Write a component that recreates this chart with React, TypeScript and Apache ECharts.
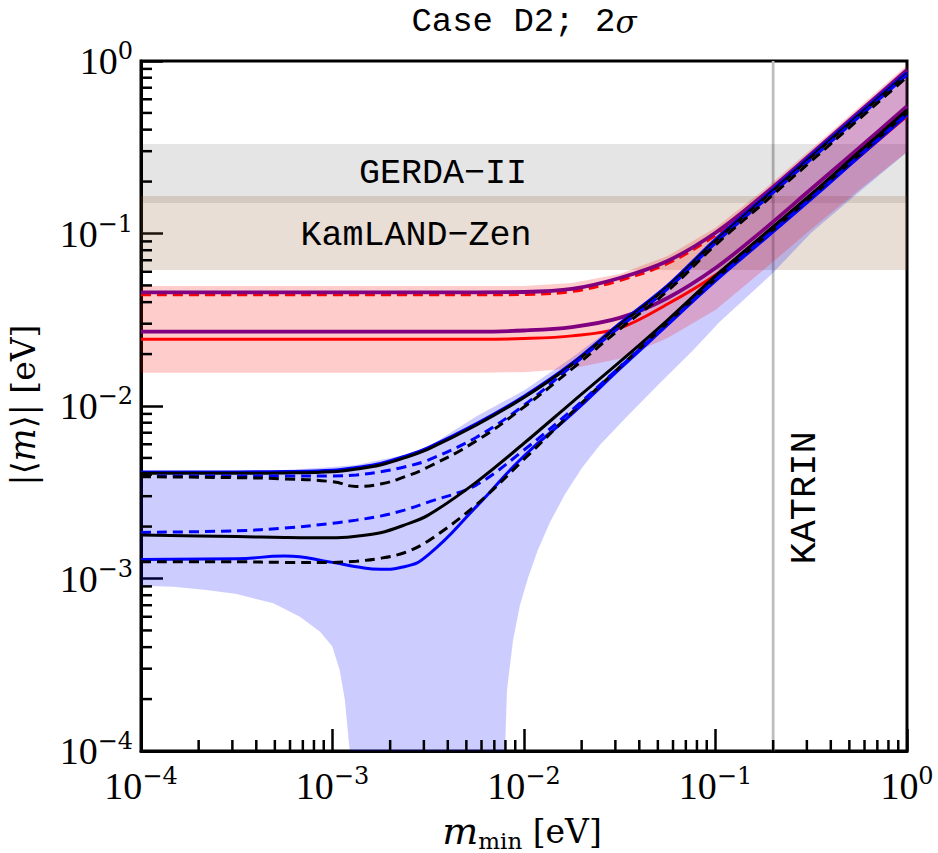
import React, { useEffect, useRef } from "react";
import * as echarts from "echarts";

// lightest neutrino mass grid (eV)
const mMin = [1e-4, 3.16e-4, 5.62e-4, 1e-3, 1.33e-3, 1.78e-3, 2.37e-3, 3.16e-3, 5.62e-3, 1e-2, 1.78e-2, 3.16e-2, 5.62e-2, 0.1, 0.178, 0.316, 0.562, 1];

// normal ordering curves |<m>| (eV)
const noBlackSolidUpper = [4.07e-3, 4.07e-3, 4.09e-3, 4.16e-3, 4.31e-3, 4.55e-3, 5.0e-3, 5.63e-3, 7.73e-3, 1.12e-2, 1.74e-2, 2.95e-2, 4.9e-2, 9.06e-2, 0.158, 0.278, 0.486, 0.841];
const noBlueSolidUpper = [4.15e-3, 4.15e-3, 4.17e-3, 4.24e-3, 4.4e-3, 4.64e-3, 5.1e-3, 5.74e-3, 7.88e-3, 1.14e-2, 1.77e-2, 3.01e-2, 5.0e-2, 9.24e-2, 0.161, 0.284, 0.496, 0.858];
const noBlueDashedUpper = [3.93e-3, 3.93e-3, 3.93e-3, 3.93e-3, 3.98e-3, 4.16e-3, 4.43e-3, 4.86e-3, 6.57e-3, 1.01e-2, 1.71e-2, 2.87e-2, 4.77e-2, 8.81e-2, 0.154, 0.27, 0.474, 0.83];
const noBlackDashedUpper = [3.89e-3, 3.84e-3, 3.78e-3, 3.64e-3, 3.42e-3, 3.53e-3, 3.88e-3, 4.43e-3, 6.27e-3, 9.87e-3, 1.64e-2, 2.79e-2, 4.65e-2, 8.58e-2, 0.15, 0.263, 0.461, 0.807];
const noBlueDashedLower = [1.85e-3, 1.89e-3, 1.96e-3, 2.09e-3, 2.18e-3, 2.3e-3, 2.49e-3, 2.77e-3, 3.48e-3, 5.56e-3, 9.48e-3, 1.68e-2, 2.99e-2, 5.45e-2, 9.41e-2, 0.165, 0.289, 0.506];
const noBlackSolidLower = [1.79e-3, 1.75e-3, 1.73e-3, 1.72e-3, 1.76e-3, 1.84e-3, 2.04e-3, 2.33e-3, 3.61e-3, 6.08e-3, 1.05e-2, 1.8e-2, 3.15e-2, 5.68e-2, 9.8e-2, 0.169, 0.297, 0.52];
const noBlackDashedLower = [1.25e-3, 1.25e-3, 1.24e-3, 1.24e-3, 1.26e-3, 1.31e-3, 1.41e-3, 1.65e-3, 2.67e-3, 4.91e-3, 9.18e-3, 1.68e-2, 3.03e-2, 5.45e-2, 9.41e-2, 0.163, 0.285, 0.5];
const noBlueSolidLower = [1.29e-3, 1.3e-3, 1.35e-3, 1.24e-3, 1.17e-3, 1.13e-3, 1.17e-3, 1.37e-3, 2.6e-3, 5.13e-3, 8.99e-3, 1.64e-2, 2.95e-2, 5.31e-2, 9.16e-2, 0.158, 0.278, 0.486];

// inverted ordering curves |<m>| (eV)
const ioPurpleUpper = [4.56e-2, 4.56e-2, 4.56e-2, 4.56e-2, 4.56e-2, 4.56e-2, 4.56e-2, 4.56e-2, 4.56e-2, 4.58e-2, 4.77e-2, 5.52e-2, 6.93e-2, 0.101, 0.167, 0.289, 0.506, 0.887];
const ioRedDashedUpper = [4.41e-2, 4.41e-2, 4.41e-2, 4.41e-2, 4.41e-2, 4.41e-2, 4.41e-2, 4.41e-2, 4.41e-2, 4.43e-2, 4.61e-2, 5.34e-2, 6.7e-2, 9.77e-2, 0.161, 0.279, 0.489, 0.858];
const ioPurpleLower = [2.7e-2, 2.7e-2, 2.7e-2, 2.7e-2, 2.7e-2, 2.7e-2, 2.7e-2, 2.7e-2, 2.7e-2, 2.74e-2, 2.87e-2, 3.24e-2, 4.23e-2, 6.31e-2, 0.105, 0.181, 0.313, 0.548];
const ioRedSolidLower = [2.44e-2, 2.44e-2, 2.44e-2, 2.44e-2, 2.44e-2, 2.44e-2, 2.44e-2, 2.44e-2, 2.44e-2, 2.46e-2, 2.55e-2, 2.83e-2, 3.9e-2, 5.75e-2, 9.41e-2, 0.161, 0.278, 0.48];

// allowed regions (2 sigma)
const ioBandUpper = [4.96e-2, 4.96e-2, 4.96e-2, 4.96e-2, 4.96e-2, 4.96e-2, 4.96e-2, 4.96e-2, 4.96e-2, 4.96e-2, 5.16e-2, 5.82e-2, 7.41e-2, 0.108, 0.179, 0.309, 0.541, 0.948];
const ioBandLower = [1.56e-2, 1.56e-2, 1.56e-2, 1.56e-2, 1.56e-2, 1.56e-2, 1.56e-2, 1.56e-2, 1.56e-2, 1.57e-2, 1.65e-2, 1.88e-2, 2.48e-2, 3.6e-2, 6.14e-2, 0.106, 0.179, 0.297];
const noBandUpper = [4.2e-3, 4.23e-3, 4.26e-3, 4.43e-3, 4.55e-3, 4.86e-3, 5.2e-3, 5.78e-3, 8.69e-3, 1.23e-2, 1.91e-2, 3.07e-2, 5.02e-2, 9.68e-2, 0.172, 0.301, 0.527, 0.923];
// lower edge of NO region: left lobe (down to cancellation), right lobe (up from cancellation)
const noBandLowerLeft: [number, number][] = [[1e-4, 9.08e-4], [1.48e-4, 8.97e-4], [2.2e-4, 8.57e-4], [3.16e-4, 8.13e-4], [4.91e-4, 7.18e-4], [6.76e-4, 6.01e-4], [8.61e-4, 4.92e-4], [9.98e-4, 4.03e-4], [1.09e-3, 2.95e-4], [1.16e-3, 1.98e-4], [1.23e-3, 1e-4]];
const noBandLowerRight: [number, number][] = [[7.96e-3, 1e-4], [8.15e-3, 2.26e-4], [8.77e-3, 4.4e-4], [9.53e-3, 7.02e-4], [1.05e-2, 1.01e-3], [1.18e-2, 1.46e-3], [1.37e-2, 2.13e-3], [1.64e-2, 3.09e-3], [2.01e-2, 4.38e-3], [2.49e-2, 5.94e-3], [3.44e-2, 8.67e-3], [5.13e-2, 1.36e-2], [7.66e-2, 2.11e-2], [0.105, 3.07e-2], [0.197, 5.82e-2], [0.316, 0.101], [0.562, 0.174], [1, 0.296]];

// experimental limits
const gerdaRange = [0.15, 0.33];
const kamlandRange = [0.0614, 0.165];
const katrinLimit = 0.2;

// axis
const axisMin = 1e-4;
const axisMax = 1;
const decades = [1e-4, 1e-3, 1e-2, 1e-1];
const minorMultipliers = [2, 3, 4, 5, 6, 7, 8, 9];

export default function App() {
  const ref = useRef<HTMLDivElement>(null);
  useEffect(() => {
    if (!ref.current) return;
    const chart = echarts.init(ref.current, null, { renderer: "svg" });

    const minorVals: number[] = [];
    decades.forEach((d) => minorMultipliers.forEach((k) => minorVals.push(k * d)));

    const pairs = (ys: number[]) => mMin.map((x, i) => [x, ys[i]]);

    const poly = (pts: number[][], fill: string, z: number) => ({
      type: "custom",
      coordinateSystem: "cartesian2d",
      silent: true,
      z,
      data: [pts[0]],
      renderItem: (_p: any, api: any) => ({
        type: "polygon",
        shape: { points: pts.map((p) => api.coord(p)) },
        style: { fill },
      }),
    });

    const line = (ys: number[], color: string, dashed: boolean, z: number, width = 3, smooth = 0.35) => ({
      type: "line",
      data: pairs(ys),
      smooth,
      symbol: "none",
      silent: true,
      z,
      lineStyle: { color, width, type: dashed ? [10, 6] : "solid" },
    });

    const noPoly = [
      ...pairs(noBandUpper),
      ...noBandLowerRight.slice().reverse(),
      ...noBandLowerLeft.slice().reverse(),
    ];
    const ioPoly = [...pairs(ioBandUpper), ...pairs(ioBandLower).reverse()];
    const rectPoly = (r: number[]) => [
      [axisMin, r[0]],
      [axisMax, r[0]],
      [axisMax, r[1]],
      [axisMin, r[1]],
    ];

    const labelFmt = (v: number) => {
      const e = Math.round(Math.log10(v));
      return `{b|10}{s|${e < 0 ? "\u2212" + -e : e}}`;
    };
    const labelRich = {
      b: { fontFamily: "Liberation Serif", fontSize: 38, lineHeight: 44, color: "#000" },
      s: { fontFamily: "DejaVu Serif", fontSize: 24, lineHeight: 20, verticalAlign: "top", color: "#000" },
    };

    const tickSeries = (horizontal: boolean) => ({
      type: "custom",
      coordinateSystem: "cartesian2d",
      silent: true,
      z: 20,
      data: minorVals.map((v) => (horizontal ? [v, axisMin] : [axisMin, v])),
      renderItem: (_p: any, api: any) => {
        const c = api.coord([api.value(0), api.value(1)]);
        return {
          type: "line",
          shape: horizontal
            ? { x1: c[0], y1: c[1], x2: c[0], y2: c[1] - 11 }
            : { x1: c[0], y1: c[1], x2: c[0] + 11, y2: c[1] },
          style: { stroke: "#000", lineWidth: 2.5 },
        };
      },
    });

    const monoFont = "Liberation Mono";

    chart.setOption({
      animation: false,
      backgroundColor: "#fff",
      grid: { left: 141, top: 61, right: 31, bottom: 102, show: true, borderColor: "#000", borderWidth: 3, backgroundColor: "transparent" },
      xAxis: {
        type: "log",
        logBase: 10,
        min: axisMin,
        max: axisMax,
        splitLine: { show: false },
        axisLine: { show: true, lineStyle: { color: "#000", width: 3 } },
        axisTick: { show: true, inside: true, length: 22, lineStyle: { color: "#000", width: 2.5 } },
        axisLabel: { margin: 13, formatter: labelFmt, rich: labelRich, showMinLabel: true, showMaxLabel: true },
      },
      yAxis: {
        type: "log",
        logBase: 10,
        min: axisMin,
        max: axisMax,
        splitLine: { show: false },
        axisLine: { show: true, lineStyle: { color: "#000", width: 3 } },
        axisTick: { show: true, inside: true, length: 22, lineStyle: { color: "#000", width: 2.5 } },
        axisLabel: { margin: 8, formatter: labelFmt, rich: labelRich, showMinLabel: true, showMaxLabel: true },
      },
      graphic: [
        {
          type: "text", x: 524, y: 22, silent: true,
          style: {
            text: "{a|Case D2; 2}{g|\u03c3}",
            textAlign: "center", textVerticalAlign: "middle", align: "center", verticalAlign: "middle",
            rich: {
              a: { fontFamily: monoFont, fontSize: 34, fill: "#000", color: "#000" },
              g: { fontFamily: "DejaVu Serif", fontStyle: "italic", fontSize: 31, fill: "#000", color: "#000" },
            },
          },
        },
        {
          type: "text", x: 443, y: 174, silent: true, z: 30,
          style: { text: "GERDA\u2212II", font: `35px "${monoFont}"`, fill: "#000", textAlign: "center", textVerticalAlign: "middle", align: "center", verticalAlign: "middle" },
        },
        {
          type: "text", x: 416, y: 236, silent: true, z: 30,
          style: { text: "KamLAND\u2212Zen", font: `35px "${monoFont}"`, fill: "#000", textAlign: "center", textVerticalAlign: "middle", align: "center", verticalAlign: "middle" },
        },
        {
          type: "text", x: 805, y: 498, rotation: Math.PI / 2, silent: true, z: 30,
          style: { text: "KATRIN", font: `37px "${monoFont}"`, fill: "#000", textAlign: "center", textVerticalAlign: "middle", align: "center", verticalAlign: "middle" },
        },
        {
          type: "text", x: 23, y: 405, rotation: Math.PI / 2, silent: true,
          style: {
            text: "{t|\u007c\u27e8}{i|m}{t|\u27e9\u007c [eV]}",
            textAlign: "center", textVerticalAlign: "middle", align: "center", verticalAlign: "middle",
            rich: {
              t: { fontFamily: "DejaVu Serif", fontSize: 33, fill: "#000", color: "#000" },
              i: { fontFamily: "DejaVu Serif", fontStyle: "italic", fontSize: 35, fill: "#000", color: "#000" },
            },
          },
        },
        {
          type: "text", x: 522, y: 831, silent: true,
          style: {
            text: "{i|m}{s|min}{t| [eV]}",
            textAlign: "center", textVerticalAlign: "middle", align: "center", verticalAlign: "middle",
            rich: {
              i: { fontFamily: "DejaVu Serif", fontStyle: "italic", fontSize: 38, lineHeight: 42, fill: "#000", color: "#000" },
              s: { fontFamily: "DejaVu Serif", fontSize: 23, lineHeight: 22, verticalAlign: "bottom", fill: "#000", color: "#000" },
              t: { fontFamily: "DejaVu Serif", fontSize: 33, lineHeight: 42, fill: "#000", color: "#000" },
            },
          },
        },
      ],
      series: [
        {
          type: "line",
          data: [[katrinLimit, axisMin], [katrinLimit, axisMax]],
          symbol: "none",
          silent: true,
          z: 1,
          lineStyle: { color: "#bdbdbd", width: 2.8 },
        },
        poly(rectPoly(gerdaRange), "rgba(0,0,0,0.1)", 2),
        poly(rectPoly(kamlandRange), "rgba(139,90,43,0.2)", 2),
        poly(noPoly, "rgba(0,0,255,0.2)", 3),
        poly(ioPoly, "rgba(255,0,0,0.2)", 3),
        line(ioRedSolidLower, "#ff0000", false, 5),
        line(ioPurpleLower, "#800080", false, 5, 3.8),
        line(ioRedDashedUpper, "#ff0000", true, 5),
        line(ioPurpleUpper, "#800080", false, 5, 3.8),
        line(noBlueSolidLower, "#0000ff", false, 6, 3, 0.5),
        line(noBlackDashedLower, "#000000", true, 6),
        line(noBlueDashedLower, "#0000ff", true, 6),
        line(noBlackSolidLower, "#000000", false, 6),
        line(noBlueSolidUpper, "#0000ff", false, 6),
        line(noBlackSolidUpper, "#000000", false, 6),
        line(noBlueDashedUpper, "#0000ff", true, 6),
        line(noBlackDashedUpper, "#000000", true, 6, 3, 0.5),
        tickSeries(true),
        tickSeries(false),
      ],
    });
    return () => chart.dispose();
  }, []);
  return <div ref={ref} style={{ position: "fixed", left: 0, top: 0, width: 938, height: 853, background: "#fff" }} />;
}
